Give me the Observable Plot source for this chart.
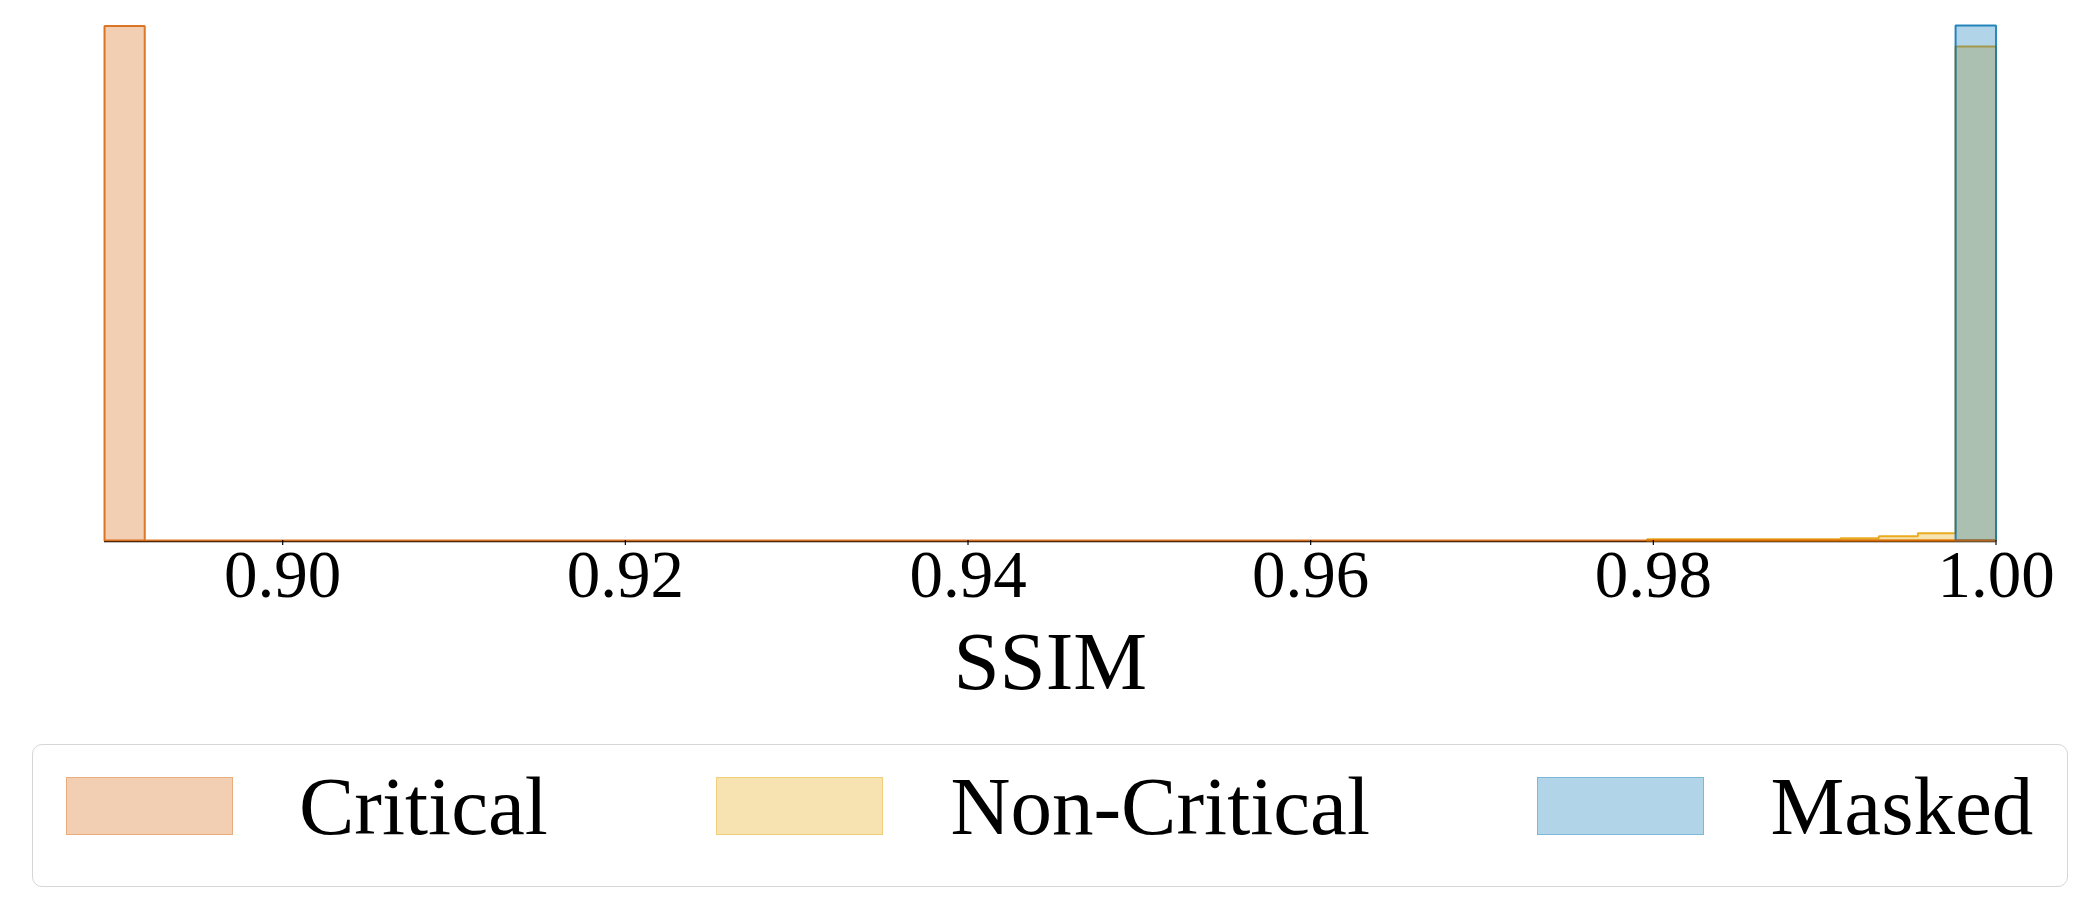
<!DOCTYPE html>
<html><head><meta charset="utf-8">
<script src="https://cdn.jsdelivr.net/npm/d3@7"></script>
<script src="https://cdn.jsdelivr.net/npm/@observablehq/plot@0.6"></script>
<style>
body{margin:0;background:#fff;}
#wrap{position:relative;width:2100px;height:900px;font-family:"Liberation Serif","Times New Roman",serif;color:#000;}
#chart svg{display:block;}
#chart svg text{font-family:"Liberation Serif","Times New Roman",serif;}
#legend{position:absolute;left:32px;top:744px;width:2036px;height:143px;box-sizing:border-box;border:1.5px solid #d6d6d6;border-radius:10px;background:#fff;}
.patch{position:absolute;top:31.5px;width:167px;height:58px;box-sizing:border-box;border-width:1.5px;border-style:solid;}
.lbl{position:absolute;top:20px;font-size:83px;line-height:83px;white-space:nowrap;}
</style>
</head><body>
<div id="wrap"><div id="chart"></div><div id="legend"></div></div>
<script>
const seriesNames = ["Critical", "Non-Critical", "Masked"];
const seriesColors = ["#d55e00", "#e69f00", "#0072b2"];
const criticalEdges = [0.8896, 0.89195, 1.0];
const criticalCounts = [0.999, 0];
const nonCriticalEdges = [0.97964, 0.98190, 0.98415, 0.98641, 0.98866, 0.99092, 0.99316, 0.99544, 0.99764, 1.0];
const nonCriticalCounts = [0.0022, 0.0022, 0.0024, 0.0024, 0.0024, 0.0043, 0.0082, 0.014, 0.959];
const maskedEdges = [0.99764, 1.0];
const maskedCounts = [1.0];
const xTicks = [0.90, 0.92, 0.94, 0.96, 0.98, 1.00];
const xDomain = [0.8896, 1.0];
const serif = "Liberation Serif";

function stepPoints(edges, counts) {
  const pts = [{x: edges[0], y: 0}];
  counts.forEach((c, i) => { pts.push({x: edges[i], y: c}); pts.push({x: edges[i + 1], y: c}); });
  pts.push({x: edges[edges.length - 1], y: 0});
  return pts;
}
function histMarks(edges, counts, color) {
  const pts = stepPoints(edges, counts);
  const outline = pts.concat([pts[0]]);
  return [
    Plot.areaY(pts, {x: "x", y1: 0, y2: "y", fill: color, fillOpacity: 0.3}),
    Plot.line(outline, {x: "x", y: "y", stroke: color, strokeOpacity: 0.82, strokeWidth: 2, strokeLinejoin: "miter"})
  ];
}

const chart = Plot.plot({
  width: 2100, height: 730,
  marginLeft: 104, marginRight: 104.5, marginTop: 25, marginBottom: 190,
  x: {domain: xDomain},
  y: {domain: [0, 1], axis: null},
  style: {fontFamily: serif, color: "black", background: "white", overflow: "visible"},
  marks: [
    Plot.ruleY([0], {stroke: "black", strokeWidth: 1.6, dy: 1}),
    ...histMarks(nonCriticalEdges, nonCriticalCounts, seriesColors[1]),
    ...histMarks(maskedEdges, maskedCounts, seriesColors[2]),
    ...histMarks(criticalEdges, criticalCounts, seriesColors[0]),
    Plot.axisX({ticks: xTicks, tickFormat: d3.format(".2f"), tickSize: 5, tickPadding: 4, fontSize: 67, fontFamily: serif, color: "black", strokeWidth: 1.2, label: null}),
    Plot.text(["SSIM"], {text: d => d, frameAnchor: "bottom", dy: 121.5, fontSize: 83, fontFamily: serif, lineAnchor: "middle", fill: "black"})
  ]
});
document.getElementById("chart").appendChild(chart);

const patchLeft = [32.5, 682.5, 1503.5];
const textLeft = [266, 917.5, 1737.5];
const legend = document.getElementById("legend");
seriesNames.forEach((name, i) => {
  const c = d3.color(seriesColors[i]);
  const rgba = `rgba(${c.r},${c.g},${c.b},0.3)`;
  const p = document.createElement("div");
  p.className = "patch";
  p.style.left = patchLeft[i] + "px";
  p.style.background = rgba;
  p.style.borderColor = rgba;
  legend.appendChild(p);
  const t = document.createElement("div");
  t.className = "lbl";
  t.style.left = textLeft[i] + "px";
  t.textContent = name;
  legend.appendChild(t);
});
</script>
</body></html>
